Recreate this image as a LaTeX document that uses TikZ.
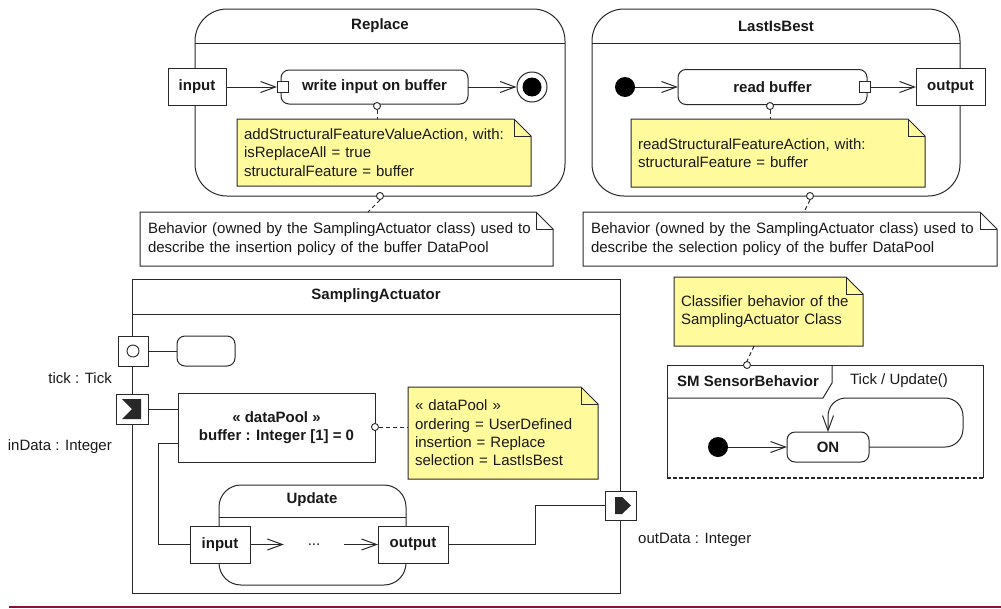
\documentclass[tikz,border=0pt]{standalone}
\usepackage{fontspec}
\setmainfont{Liberation Sans}
\usetikzlibrary{arrows.meta,calc}
\pgfdeclarelayer{background}
\pgfsetlayers{background,main}
\definecolor{noteyellow}{RGB}{255,250,155}
\definecolor{linegray}{RGB}{40,40,40}
\definecolor{rulered}{RGB}{140,20,50}
\tikzset{
 every node/.style={font=\fontsize{15}{18.4}\selectfont, text=black!90},
 ln/.style={draw=linegray, line width=1pt},
 box/.style={ln, fill=white, inner sep=0pt, outer sep=0pt, anchor=north west, font=\fontsize{15}{18.4}\selectfont\bfseries},
 rbox/.style={box, rounded corners=8pt},
 frm/.style={inner sep=0pt, outer sep=0pt, anchor=north west},
 ttl/.style={font=\fontsize{15}{18}\selectfont\bfseries, inner sep=0pt},
 lbl/.style={inner sep=0pt},
 notetext/.style={anchor=north west, inner xsep=7pt, inner ysep=0pt, align=left, outer sep=0pt},
 pinbox/.style={ln, fill=white, minimum size=11pt, inner sep=0pt},
 lolli/.style={circle, draw=linegray, line width=0.9pt, fill=white, minimum size=7pt, inner sep=0pt},
 initnode/.style={circle, fill=black, minimum size=20pt, inner sep=0pt},
 flow/.style={ln, -{Straight Barb[length=15pt,width=11pt,line width=1pt]}},
 anchorline/.style={draw=linegray, line width=1pt, dash pattern=on 4pt off 3pt},
 noteline/.style={draw=linegray, line width=1pt},
}
\newcommand{\dognote}[2]{%
 \begin{pgfonlayer}{background}
 \draw[noteline, fill=#2] (#1.south west) -- (#1.north west) -- ([xshift=-17pt]#1.north east) -- ([yshift=-17pt]#1.north east) -- (#1.south east) -- cycle;
 \draw[noteline] ([xshift=-17pt]#1.north east) -- ([xshift=-17pt,yshift=-17pt]#1.north east) -- ([yshift=-17pt]#1.north east);
 \end{pgfonlayer}}
\begin{document}
\begin{tikzpicture}[x=1pt,y=-1pt]
\useasboundingbox (0,0) rectangle (1001,608);

% ---------- Replace ----------
\node[frm, ln, rounded corners=32pt, minimum width=370pt, minimum height=187pt] (replace) at (195,9) {};
\draw[ln] (replace.west |- 0,43) -- (replace.east |- 0,43);
\node[ttl] (replaceT) at (380,26) {Replace};
\node[box, minimum width=58pt, minimum height=37pt] (inA) at (168,68) {input};
\node[rbox, minimum width=187pt, minimum height=34pt] (actA) at (281,70) {write input on buffer};
\node[pinbox] (pinA) at (283,87) {};
\node[circle, ln, fill=white, minimum size=30pt, inner sep=0pt] (finA) at (532,87) {};
\node[circle, fill=black, minimum size=19pt, inner sep=0pt] (finAi) at (finA) {};
\draw[flow] (inA.east |- pinA.west) -- (pinA.west);
\draw[flow] (actA.east) -- (finA.west);
\node[notetext, text width=280pt, minimum height=67pt] (noteA) at (237,119)
 {addStructuralFeatureValueAction, with:\\isReplaceAll = true\\structuralFeature = buffer};
\dognote{noteA}{noteyellow}
\node[lolli] (cA) at (377,106) {};
\draw[anchorline] (cA.south) -- (noteA.north -| cA);
\node[notetext, inner xsep=8pt, text width=397pt, minimum height=54pt] (noteB) at (140,212)
 {Behavior (owned by the SamplingActuator class) used to\\describe the insertion policy of the buffer DataPool};
\dognote{noteB}{white}
\node[lolli] (cA2) at (380,196) {};
\draw[anchorline] (cA2.south) -- ($(noteB.north west)+(228,0)$);

% ---------- LastIsBest ----------
\node[frm, ln, rounded corners=32pt, minimum width=368pt, minimum height=187pt] (lib) at (592,9) {};
\draw[ln] (lib.west |- 0,43) -- (lib.east |- 0,43);
\node[ttl] (libT) at (776,26) {LastIsBest};
\node[initnode] (initB) at (625,87) {};
\node[rbox, minimum width=189pt, minimum height=35pt] (actB) at (678,69.5) {read buffer};
\node[pinbox] (pinB) at (865,87) {};
\node[box, minimum width=69pt, minimum height=37pt] (outB) at (916,68.5) {output};
\draw[flow] (initB) -- (actB.west |- initB);
\draw[flow] (pinB.east) -- (outB.west |- pinB);
\node[notetext, text width=280pt, minimum height=68pt] (noteC) at (631,119)
 {readStructuralFeatureAction, with:\\structuralFeature = buffer};
\dognote{noteC}{noteyellow}
\node[lolli] (cB) at (770,106) {};
\draw[anchorline] (cB.south) -- (noteC.north -| cB);
\node[notetext, inner xsep=8pt, text width=398pt, minimum height=54pt] (noteD) at (583,212)
 {Behavior (owned by the SamplingActuator class) used to\\describe the selection policy of the buffer DataPool};
\dognote{noteD}{white}
\node[lolli] (cB2) at (810,196) {};
\draw[anchorline] (cB2.south) -- ($(noteD.north west)+(221,0)$);

% ---------- SamplingActuator ----------
\node[frm, ln, minimum width=488pt, minimum height=314pt] (sa) at (132,279) {};
\draw[ln] (sa.west |- 0,314) -- (sa.east |- 0,314);
\node[ttl] (saT) at (376,296) {SamplingActuator};
\node[box, minimum width=30pt, minimum height=30pt] (tickP) at (118,336) {};
\node[circle, draw=linegray, line width=0.9pt, minimum size=12pt, inner sep=0pt] (tickC) at (tickP) {};
\node[rbox, minimum width=58pt, minimum height=30pt] (tickR) at (177,336) {};
\draw[ln] (tickP.east) -- (tickR.west);
\node[lbl, anchor=east] (tickL) at (112,378) {tick : Tick};
\node[box, minimum width=32pt, minimum height=30pt] (inP) at (116,394) {};
\fill[linegray] ($(inP)+(-10,-10)$) -- ++(19,0) -- ++(0,20) -- ++(-19,0) -- ($(inP)+(0,0)$) -- cycle;
\node[lbl, anchor=east] (inL) at (112,447) {inData : Integer};
\node[box, minimum width=197pt, minimum height=69pt, align=center] (dp) at (178,393)
 {« dataPool »\\buffer : Integer [1] = 0};
\draw[ln] (inP.east) -- (inP.east -| dp.west);
\node[notetext, text width=176pt, minimum height=92pt] (noteE) at (408,387)
 {« dataPool »\\ordering = UserDefined\\insertion = Replace\\selection = LastIsBest};
\dognote{noteE}{noteyellow}
\node[lolli] (cE) at (375,427) {};
\draw[anchorline] (cE.east) -- (noteE.west |- cE);

\node[frm, ln, rounded corners=22pt, minimum width=187pt, minimum height=100pt] (upd) at (219,485) {};
\draw[ln] (upd.west |- 0,517) -- (upd.east |- 0,517);
\node[ttl] (updT) at (312,500) {Update};
\node[box, minimum width=60pt, minimum height=37pt] (updIn) at (190,526) {input};
\node[box, minimum width=70pt, minimum height=37pt] (updOut) at (378,526) {output};
\node[lbl, minimum width=60pt] (dots) at (314,544.5) {...};
\draw[flow] (updIn.east) -- (dots.west);
\draw[flow] (dots.east) -- (updOut.west);
\draw[ln] (dp.west |- 0,443) -| ($(updIn.west)+(-32,0)$) -- (updIn.west);

\node[box, minimum width=31pt, minimum height=29pt] (outP) at (605,491) {};
\fill[linegray] ($(outP)+(-5.5,-8.5)$) -- ++(7,0) -- ++(9,8.5) -- ++(-9,8.5) -- ++(-7,0) -- cycle;
\draw[ln] (updOut.east) -- ($(updOut.east)+(87,0)$) |- (outP.west);
\node[lbl, anchor=west] (outL) at (638,540) {outData : Integer};

% ---------- Classifier behavior ----------
\node[notetext, text width=175pt, minimum height=69pt] (noteF) at (674,277)
 {Classifier behavior of the\\SamplingActuator Class};
\dognote{noteF}{noteyellow}
\node[frm, minimum width=316pt, minimum height=113pt] (sm) at (667,365) {};
\draw[ln] (sm.south west) -- (sm.north west) -- (sm.north east) -- (sm.south east);
\draw[draw=linegray, line width=2pt, dash pattern=on 4pt off 2pt] (sm.south west) -- (sm.south east);
\draw[ln] (sm.west |- 0,398) -- (823,398) -- (832,383) -- (sm.north -| 832,0);
\node[ttl] (smT) at (748,381) {SM SensorBehavior};
\node[lbl] (trig) at (899,381) {Tick / Update()};
\node[initnode] (initS) at (718,447) {};
\node[rbox, minimum width=82pt, minimum height=30pt] (on) at (787,432) {ON};
\draw[flow] (initS) -- (on.west);
\draw[flow, rounded corners=18pt] (on.east) -- (963,447) -- (963,398) -- (on.north |- 0,398) -- (on.north);
\node[lolli] (cF) at (747,365) {};
\draw[anchorline] ($(noteF.south west)+(80,0)$) -- (cF.north);

% bottom rule
\draw[draw=rulered, line width=1.6pt] (9,607) -- (1001,607);
\end{tikzpicture}
\end{document}
